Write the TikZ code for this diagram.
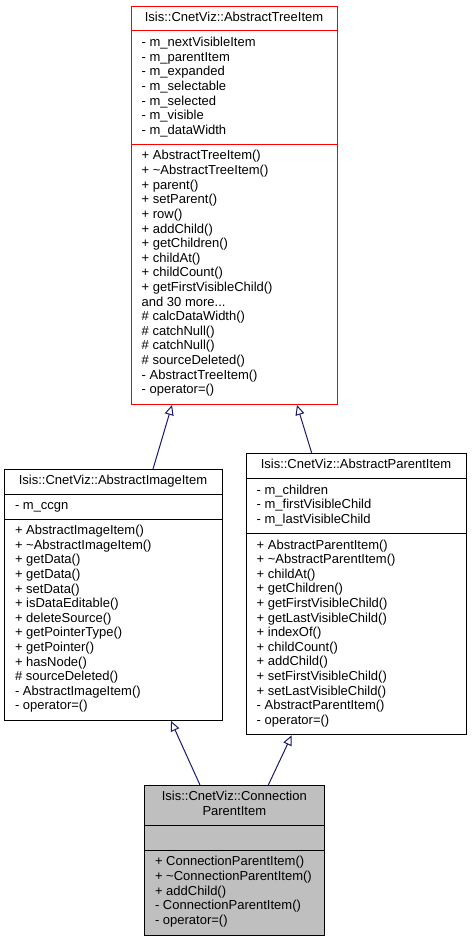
\documentclass[tikz,border=0pt]{standalone}
\usepackage{fontspec}
\setmainfont{Liberation Sans}
\usetikzlibrary{arrows.meta,calc}
\definecolor{edgeblue}{HTML}{191970}
\definecolor{redline}{HTML}{FF0000}
\definecolor{hilite}{HTML}{BFBFBF}
\newcommand\threedots{...}
\newcommand\memberlines[4]{%
  \foreach \t [count=\i from 0] in {#4} {\node[txt] (#1-\i) at (#2,{#3+\i*14.6}) {\t};}}
\begin{document}
\begin{tikzpicture}[x=1pt,y=-1pt,
  txt/.style={anchor=base west, inner sep=0pt, font=\fontsize{13}{14.6}\selectfont},
  ttl/.style={anchor=base, inner sep=0pt, font=\fontsize{13}{14.6}\selectfont},
  umlbox/.style={draw=black, line width=1pt, anchor=north west, inner sep=0pt, fill=white},
  divider/.style={draw=black, line width=1pt},
  inh/.style={draw=edgeblue, line width=1pt, -{Triangle[open, length=10pt, width=9pt]}}]
\useasboundingbox[fill=white] (0,0) rectangle (471,941);

% AbstractTreeItem
\node[umlbox, draw=redline, minimum width=206pt, minimum height=398pt] (tree) at (131,6) {};
\draw[divider, draw=redline] (tree.west |- 0,31) -- (tree.east |- 0,31);
\draw[divider, draw=redline] (tree.west |- 0,144.3) -- (tree.east |- 0,144.3);
\node[ttl] (tree-title) at (234,21.7) {Isis::CnetViz::AbstractTreeItem};
\memberlines{treeA}{141.5}{46.7}{- m\_nextVisibleItem, - m\_parentItem, - m\_expanded, - m\_selectable, - m\_selected, - m\_visible, - m\_dataWidth}
\memberlines{treeM}{141.5}{160}{+ AbstractTreeItem(), + \textasciitilde{}AbstractTreeItem(), + parent(), + setParent(), + row(), + addChild(), + getChildren(), + childAt(), + childCount(), + getFirstVisibleChild(), and 30 more\threedots, \# calcDataWidth(), \# catchNull(), \# catchNull(), \# sourceDeleted(), - AbstractTreeItem(), - operator=()}

% AbstractImageItem
\node[umlbox, minimum width=217.4pt, minimum height=251pt] (img) at (4.3,469) {};
\draw[divider] (img.west |- 0,494) -- (img.east |- 0,494);
\draw[divider] (img.west |- 0,519) -- (img.east |- 0,519);
\node[ttl] (img-title) at (113,484.7) {Isis::CnetViz::AbstractImageItem};
\memberlines{imgA}{14.8}{509.7}{- m\_ccgn}
\memberlines{imgM}{14.8}{534.7}{+ AbstractImageItem(), + \textasciitilde{}AbstractImageItem(), + getData(), + getData(), + setData(), + isDataEditable(), + deleteSource(), + getPointerType(), + getPointer(), + hasNode(), \# sourceDeleted(), - AbstractImageItem(), - operator=()}

% AbstractParentItem
\node[umlbox, minimum width=220pt, minimum height=281.3pt] (par) at (246,453) {};
\draw[divider] (par.west |- 0,478.5) -- (par.east |- 0,478.5);
\draw[divider] (par.west |- 0,533.3) -- (par.east |- 0,533.3);
\node[ttl] (par-title) at (356,468.7) {Isis::CnetViz::AbstractParentItem};
\memberlines{parA}{256.5}{494.2}{- m\_children, - m\_firstVisibleChild, - m\_lastVisibleChild}
\memberlines{parM}{256.5}{549}{+ AbstractParentItem(), + \textasciitilde{}AbstractParentItem(), + childAt(), + getChildren(), + getFirstVisibleChild(), + getLastVisibleChild(), + indexOf(), + childCount(), + addChild(), + setFirstVisibleChild(), + setLastVisibleChild(), - AbstractParentItem(), - operator=()}

% ConnectionParentItem
\node[umlbox, fill=hilite, minimum width=180pt, minimum height=149.5pt] (conn) at (144.3,785) {};
\draw[divider] (conn.west |- 0,825.2) -- (conn.east |- 0,825.2);
\draw[divider] (conn.west |- 0,850.2) -- (conn.east |- 0,850.2);
\node[ttl] (conn-title1) at (234.3,800.7) {Isis::CnetViz::Connection};
\node[ttl] (conn-title2) at (234.3,815.3) {ParentItem};
\memberlines{connM}{154.8}{865.9}{+ ConnectionParentItem(), + \textasciitilde{}ConnectionParentItem(), + addChild(), - ConnectionParentItem(), - operator=()}

% inheritance arrows
\draw[inh] ($(img.north west)+(148.7,0)$) -- ($(tree.south west)+(41,0)$);
\draw[inh] ($(par.north west)+(65.7,0)$) -- ($(tree.south west)+(166,0)$);
\draw[inh] ($(conn.north west)+(55.7,0)$) -- ($(img.south west)+(166.7,0)$);
\draw[inh] ($(conn.north west)+(124,0)$) -- ($(par.south west)+(45.7,0)$);
\end{tikzpicture}
\end{document}
